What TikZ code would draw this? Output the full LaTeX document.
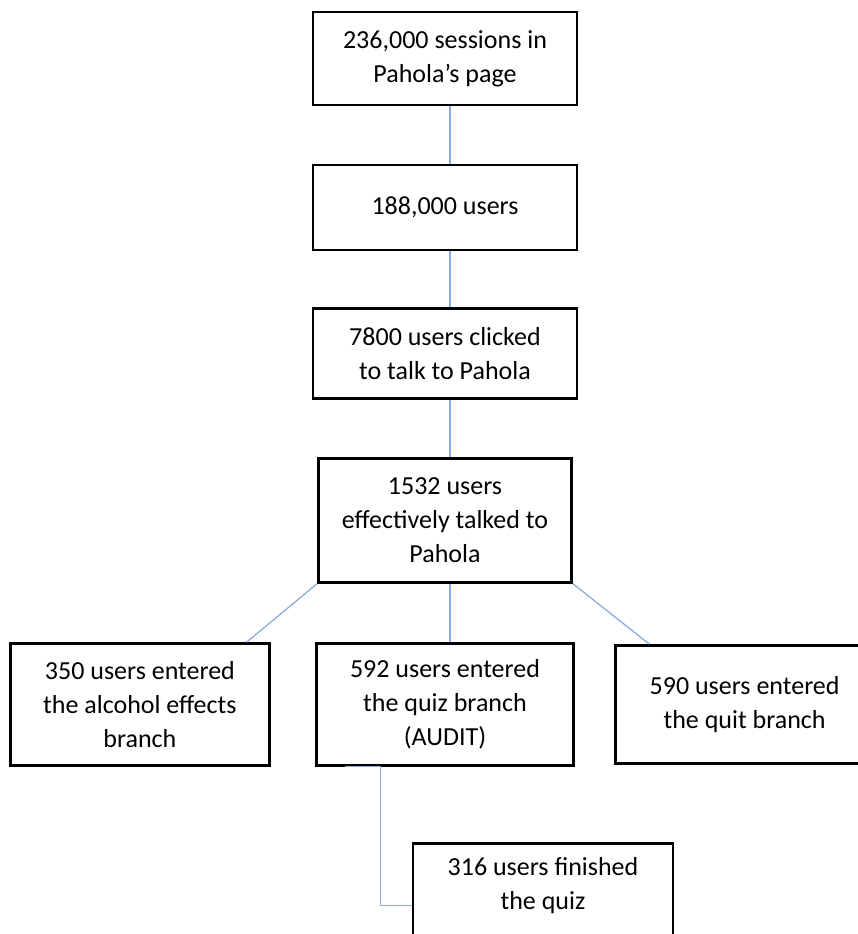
\documentclass[tikz,border=0pt]{standalone}
\usepackage{fontspec}
\setmainfont{Carlito}
\usetikzlibrary{positioning}
\definecolor{linkblue}{RGB}{143,170,220}

\begin{document}
\begin{tikzpicture}[
  x=1pt, y=-1pt,
  node distance=57.5pt and 43pt,
  box/.style={draw, line width=2.6pt, align=center, minimum width=264pt, inner sep=0pt, font=\fontsize{26}{34}\selectfont},
  link/.style={draw=linkblue, line width=1.3pt}
]
\useasboundingbox (0,0) rectangle (858,934);
\node[box, minimum height=93pt] at (445,58.5) (sessions) {236,000 sessions in\\Pahola’s page};
\node[box, minimum height=85pt, below=of sessions] (users) {188,000 users};
\node[box, minimum height=90pt, below=55.5pt of users] (clicked) {7800 users clicked\\to talk to Pahola};
\node[box, minimum width=253pt, minimum height=124pt, below=of clicked] (talked) {1532 users\\effectively talked to\\Pahola};
\node[box, minimum width=257pt, minimum height=122pt, below=58.5pt of talked] (quiz) {592 users entered\\the quiz branch\\(AUDIT)};
\node[box, minimum width=259pt, minimum height=122pt, left=44.5pt of quiz] (alcohol) {350 users entered\\the alcohol effects\\branch};
\node[box, minimum width=258pt, minimum height=118pt, right=39.5pt of quiz] (quit) {590 users entered\\the quit branch};
\node[box, minimum width=260pt, minimum height=124pt, below=75.5pt of quiz, xshift=98pt] (finished) {316 users finished\\the quiz\\\strut};

\draw[link] ([xshift=5pt]sessions.south) -- ([xshift=5pt]users.north);
\draw[link] ([xshift=5pt]users.south) -- ([xshift=5pt]clicked.north);
\draw[link] ([xshift=5pt]clicked.south) -- ([xshift=5pt]talked.north);
\draw[link] (talked.south west) -- ([xshift=-24pt]alcohol.north east);
\draw[link] ([xshift=5pt]talked.south) -- ([xshift=5pt]talked.south |- quiz.north);
\draw[link] (talked.south east) -- ([xshift=35pt]quit.north west);
\draw[link] ([xshift=30pt]quiz.south west) -- ([xshift=65pt]quiz.south west) |- (finished.west);
\end{tikzpicture}
\end{document}
